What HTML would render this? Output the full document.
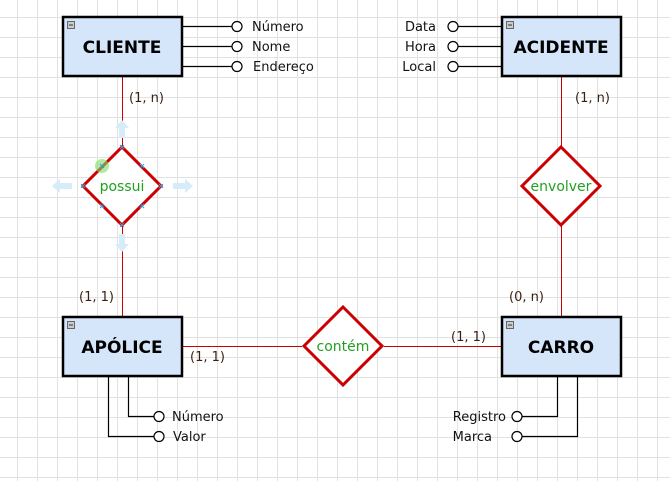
<!DOCTYPE html>
<html><head><meta charset="utf-8"><style>
html,body{margin:0;padding:0;background:#fff;}
body{width:670px;height:481px;overflow:hidden;position:relative;font-family:"DejaVu Sans","Liberation Sans",sans-serif;}
</style></head><body>
<svg width="670" height="481" xmlns="http://www.w3.org/2000/svg" style="position:absolute;left:0;top:0">
<defs>
<pattern id="g" x="17" y="17" width="20" height="20" patternUnits="userSpaceOnUse">
<path d="M0 0.5H20M0.5 0V20" stroke="#e2e2e2" stroke-width="1" fill="none"/>
</pattern>
</defs>
<rect width="670" height="481" fill="url(#g)"/>
<g stroke="#cc0000" stroke-width="1" fill="none">
<line x1="122.5" y1="76" x2="122.5" y2="146"/>
<line x1="122.5" y1="226" x2="122.5" y2="316"/>
<line x1="182" y1="346.5" x2="302" y2="346.5"/>
<line x1="384" y1="346.5" x2="501" y2="346.5"/>
<line x1="561.5" y1="76" x2="561.5" y2="146"/>
<line x1="561.5" y1="226" x2="561.5" y2="316"/>
</g>
<g stroke="#000" stroke-width="1.2" fill="none">
<path d="M182 26.5H232M182 46.5H232M182 66.5H232"/>
<path d="M458 26.5H501M458 46.5H501M458 66.5H501"/>
<path d="M128.5 376V416.5H154M108.5 376V436.5H154"/>
<path d="M522 416.5H557.5V376M522 436.5H577.5V376"/>
</g>
<g stroke="#000" stroke-width="1.2" fill="#fff">
<circle cx="237" cy="26.5" r="5"/><circle cx="237" cy="46.5" r="5"/><circle cx="237" cy="66.5" r="5"/>
<circle cx="453" cy="26.5" r="5"/><circle cx="453" cy="46.5" r="5"/><circle cx="453" cy="66.5" r="5"/>
<circle cx="159" cy="416.5" r="5"/><circle cx="159" cy="436.5" r="5"/>
<circle cx="517" cy="416.5" r="5"/><circle cx="517" cy="436.5" r="5"/>
</g>
<g fill="#d6e6fa" stroke="#000" stroke-width="2.5">
<rect x="63" y="17" width="119" height="59"/>
<rect x="502" y="17" width="119" height="59"/>
<rect x="63" y="317" width="119" height="59"/>
<rect x="502" y="317" width="119" height="59"/>
</g>
<g fill="#ccc" stroke="#666" stroke-width="1">
<rect x="67.5" y="21.5" width="7" height="7"/><rect x="506.5" y="21.5" width="7" height="7"/>
<rect x="67.5" y="321.5" width="7" height="7"/><rect x="506.5" y="321.5" width="7" height="7"/>
</g>
<g stroke="#333" stroke-width="1"><path d="M69 25H73M508 25H512M69 325H73M508 325H512"/></g>
<g font-family="'DejaVu Sans',sans-serif" font-weight="bold" font-size="17" text-anchor="middle" fill="#000">
<text x="122" y="53">CLIENTE</text><text x="561" y="53">ACIDENTE</text>
<text x="122" y="353">APÓLICE</text><text x="561" y="353">CARRO</text>
</g>
<g fill="#fff" stroke="#cc0000" stroke-width="3">
<path d="M122 147L161 186L122 225L83 186Z"/>
<path d="M561 147L600 186L561 225L522 186Z"/>
<path d="M343 307L382 346L343 385L304 346Z"/>
</g>
<g fill="#d6ecf8">
<path d="M115 128L122 120L129 128H125V138H119V128Z"/>
<path d="M52 186L60 179V183H72V189H60V193Z"/>
<path d="M193 186L185 179V183H173V189H185V193Z"/>
<path d="M115 244L122 252L129 244H125V234H119V244Z"/>
</g>
<circle cx="102" cy="166" r="7" fill="#7fdc5f" opacity="0.6"/>
<g stroke="#3a9ad9" stroke-width="1">
<path d="M120 145l4 4M124 145l-4 4M120 223l4 4M124 223l-4 4M81 184l4 4M85 184l-4 4M159 184l4 4M163 184l-4 4M100 164l4 4M104 164l-4 4M140 164l4 4M144 164l-4 4M100 204l4 4M104 204l-4 4M140 204l4 4M144 204l-4 4"/>
</g>
<g font-family="'DejaVu Sans',sans-serif" font-size="14" fill="#22a022" text-anchor="middle">
<text x="122" y="191">possui</text><text x="561" y="191">envolver</text><text x="343" y="351">contém</text>
</g>
<g font-family="'DejaVu Sans',sans-serif" font-size="13" fill="#111">
<text x="252" y="31">Número</text><text x="252" y="51">Nome</text><text x="253" y="71">Endereço</text>
<text x="436" y="31" text-anchor="end">Data</text><text x="436" y="51" text-anchor="end">Hora</text><text x="436" y="71" text-anchor="end">Local</text>
<text x="172" y="421">Número</text><text x="173" y="441">Valor</text>
<text x="506" y="421" text-anchor="end">Registro</text><text x="492" y="441" text-anchor="end">Marca</text>
</g>
<g font-family="'DejaVu Sans',sans-serif" font-size="13" fill="#3a1e10">
<text x="129" y="102">(1, n)</text>
<text x="79" y="301">(1, 1)</text>
<text x="190" y="361">(1, 1)</text>
<text x="451" y="341">(1, 1)</text>
<text x="509" y="301">(0, n)</text>
<text x="575" y="102">(1, n)</text>
</g>
</svg>
</body></html>
